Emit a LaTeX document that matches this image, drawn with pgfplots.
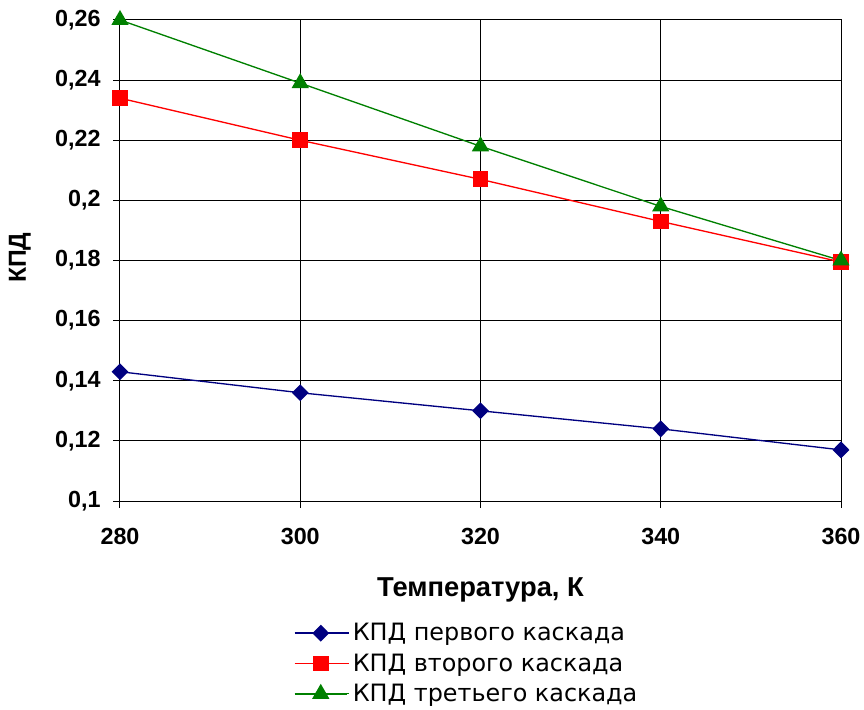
\documentclass[border=0pt]{standalone}
\usepackage{pgfplots}
\pgfplotsset{compat=1.18}
\usepackage{fontspec}
\setmainfont{Liberation Sans}
\newfontfamily\legfont{DejaVu Sans}
\definecolor{navyb}{RGB}{0,0,128}
\definecolor{redb}{RGB}{255,0,0}
\definecolor{greenb}{RGB}{0,128,0}
\begin{document}
\begin{tikzpicture}
\begin{axis}[
  at={(0,0)}, anchor=south west,
  scale only axis,
  width=540.75pt, height=360.75pt,
  xmin=280, xmax=360, ymin=0.1, ymax=0.26,
  xtick={280,300,320,340,360},
  ytick={0.1,0.12,0.14,0.16,0.18,0.2,0.22,0.24,0.26},
  grid=major,
  major grid style={black, line width=0.75pt},
  axis line style={black, line width=0.75pt},
  tick align=outside,
  major tick length=5pt,
  tick style={black, line width=0.75pt},
  xtick pos=bottom, ytick pos=left,
  /pgf/number format/assume math mode=true,
  /pgf/number format/use comma,
  /pgf/number format/fixed,
  /pgf/number format/precision=2,
  x tick label style={/pgf/number format/1000 sep={}},
  ticklabel style={font=\fontsize{17.5}{20}\selectfont\bfseries},
  xticklabel style={yshift=-12pt},
  yticklabel style={xshift=-6pt},
  clip=false,
  legend style={at={(0.4813,-0.3378)}, anchor=center, draw=none, fill=none,
    font=\legfont\fontsize{17.9}{19}\selectfont, row sep=4.2pt,
    /tikz/every even column/.append style={column sep=0pt}},
  legend cell align=left,
  legend image code/.code={%
    \path (0pt,0pt) -- (41pt,0pt);
    \draw[#1, line width=1.1pt] (0pt,0pt) -- (39pt,0pt);
    \draw[#1,mark repeat=2,mark phase=2] plot coordinates {(0pt,0pt) (19.5pt,0pt) (39pt,0pt)};},
]
\addplot[navyb, line width=1pt, mark=diamond*, mark size=5.6pt, mark options={fill=navyb, xscale=1.33}] coordinates {
  (280,0.143) (300,0.136) (320,0.130) (340,0.124) (360,0.117)};
\addlegendentry{КПД первого каскада}
\addplot[redb, line width=1pt, mark=square*, mark size=5.4pt, mark options={fill=redb}] coordinates {
  (280,0.234) (300,0.220) (320,0.207) (340,0.193) (360,0.1795)};
\addlegendentry{КПД второго каскада}
\addplot[greenb, line width=1pt, mark=triangle*, mark size=6.5pt, mark options={fill=greenb}] coordinates {
  (280,0.260) (300,0.239) (320,0.218) (340,0.198) (360,0.180)};
\addlegendentry{КПД третьего каскада}
\node[font=\fontsize{20.5}{22}\selectfont\bfseries] at (rel axis cs:0.5,-0.185) {Температура, К};
\node[font=\fontsize{18.5}{20}\selectfont\bfseries, rotate=90] at (rel axis cs:-0.139,0.506) {КПД};
\end{axis}
\pgfresetboundingbox
\path[use as bounding box] (-90pt,-156.75pt) rectangle (558pt,375.75pt);
\end{tikzpicture}
\end{document}
